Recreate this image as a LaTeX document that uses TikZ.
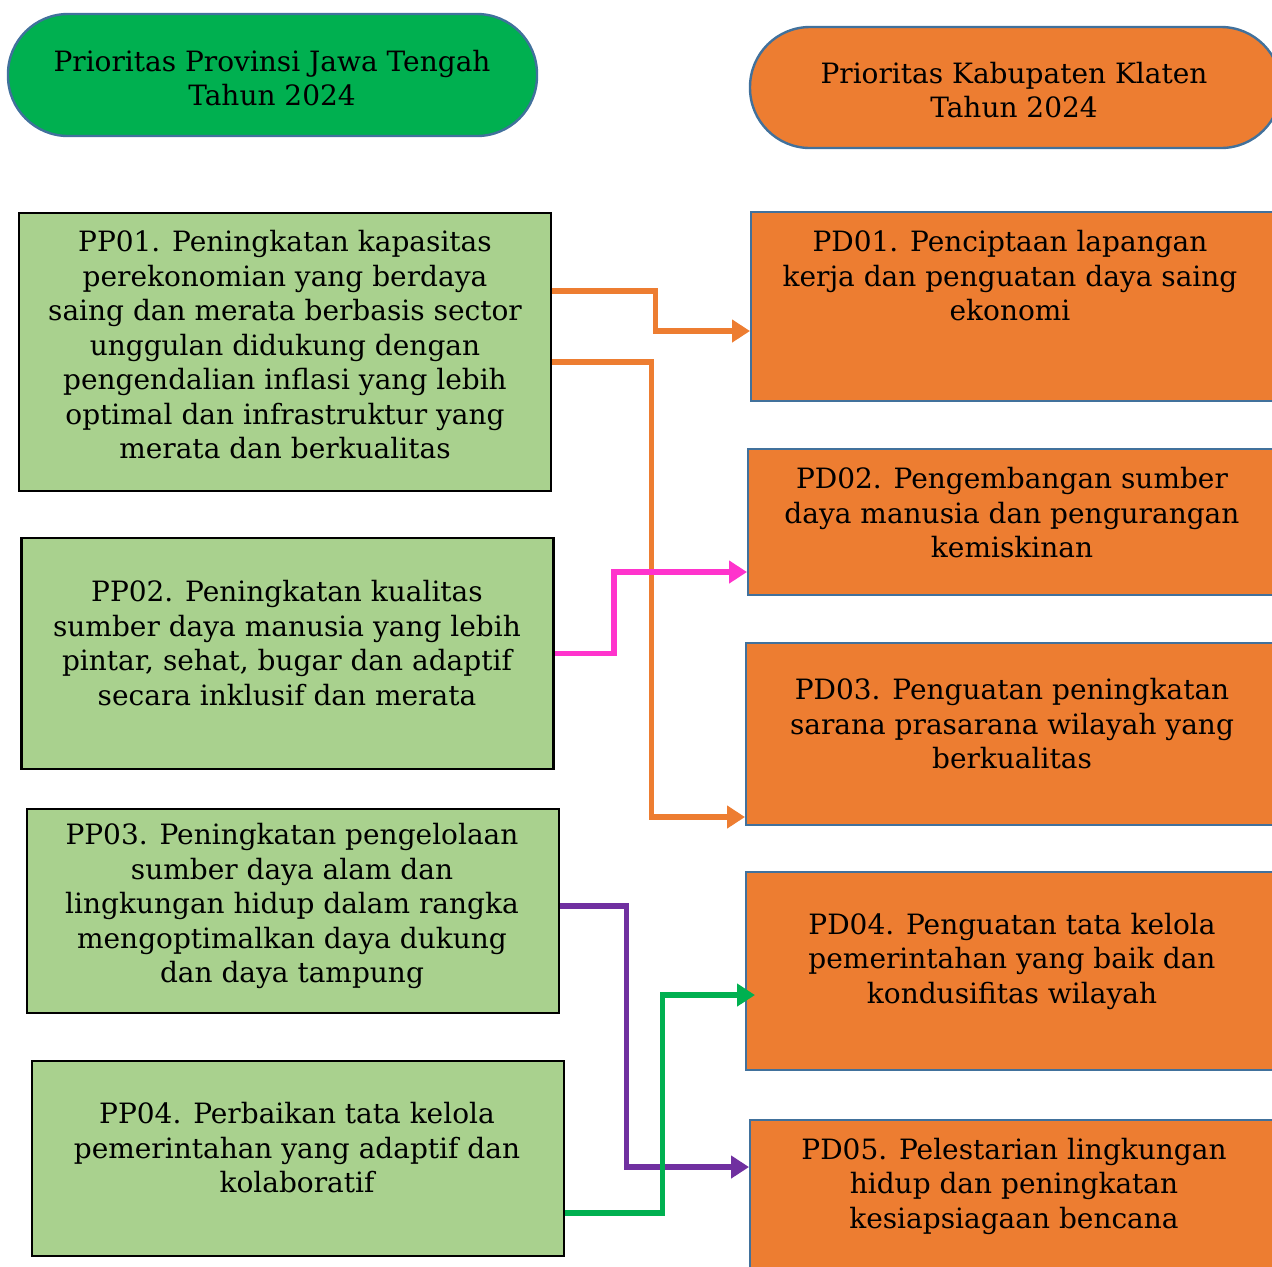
\documentclass[tikz,border=0pt]{standalone}
\usepackage{fontspec}
\setmainfont{DejaVu Serif}
\usetikzlibrary{arrows.meta}
\definecolor{hijau}{HTML}{00B050}
\definecolor{hijaumuda}{HTML}{A9D18E}
\definecolor{oranye}{HTML}{ED7D31}
\definecolor{garis}{HTML}{41719C}
\definecolor{merahmuda}{HTML}{FF33CC}
\definecolor{ungu}{HTML}{7030A0}
\begin{document}
\begin{tikzpicture}[x=0.5pt, y=-0.5pt,
	judul/.style={draw=garis, line width=1.2pt, rounded corners=30pt, inner sep=0pt},
	ppbox/.style={draw=black, line width=1.3pt, fill=hijaumuda, minimum width=266pt, inner sep=0pt},
	pdbox/.style={draw=garis, line width=1pt, fill=oranye, minimum width=266pt, inner sep=0pt},
	teks/.style={align=center, inner sep=0pt, font=\fontsize{14pt}{17.25pt}\selectfont},
	wire/.style={line width=2.8pt, -{Triangle[length=9pt,width=11pt]}}]
			\useasboundingbox (0,0) rectangle (1272,1266);
			\clip (0,0) rectangle (1272,1266);
			% judul
			\node[judul, fill=hijau, minimum width=264.5pt, minimum height=61pt] (prov) at (272.5,75) {};
			\node[teks] at (272,78) {Prioritas Provinsi Jawa Tengah\\Tahun 2024};
			\node[judul, fill=oranye, minimum width=265.5pt, minimum height=60.5pt] (kab) at (1015.5,87.5) {};
			\node[teks] at (1014,90) {Prioritas Kabupaten Klaten\\Tahun 2024};
			% prioritas provinsi
			\node[ppbox, minimum height=139pt] (pp1) at (285,352) {};
			\node[teks] at (285,345) {PP01. Peningkatan kapasitas\\perekonomian yang berdaya\\saing dan merata berbasis sector\\unggulan didukung dengan\\pengendalian inflasi yang lebih\\optimal dan infrastruktur yang\\merata dan berkualitas};
			\node[ppbox, minimum height=115.5pt] (pp2) at (287.5,653.5) {};
			\node[teks] at (287,643) {PP02. Peningkatan kualitas\\sumber daya manusia yang lebih\\pintar, sehat, bugar dan adaptif\\secara inklusif dan merata};
			\node[ppbox, minimum height=102pt] (pp3) at (293,911) {};
			\node[teks] at (292,906) {PP03. Peningkatan pengelolaan\\sumber daya alam dan\\lingkungan hidup dalam rangka\\mengoptimalkan daya dukung\\dan daya tampung};
			\node[ppbox, minimum height=97.5pt] (pp4) at (298,1158.5) {};
			\node[teks] at (297,1148) {PP04. Perbaikan tata kelola\\pemerintahan yang adaptif dan\\kolaboratif};
			% prioritas kabupaten
			\node[pdbox, minimum height=94.5pt] (pd1) at (1017,306.5) {};
			\node[teks] at (1010,276) {PD01. Penciptaan lapangan\\kerja dan penguatan daya saing\\ekonomi};
			\node[pdbox, minimum height=73pt] (pd2) at (1014,522) {};
			\node[teks] at (1012,513) {PD02. Pengembangan sumber\\daya manusia dan pengurangan\\kemiskinan};
			\node[pdbox, minimum height=91pt] (pd3) at (1012,734) {};
			\node[teks] at (1012,724) {PD03. Penguatan peningkatan\\sarana prasarana wilayah yang\\berkualitas};
			\node[pdbox, minimum height=99pt] (pd4) at (1012,971) {};
			\node[teks] at (1012,961) {PD04. Penguatan tata kelola\\pemerintahan yang baik dan\\kondusifitas wilayah};
			\node[pdbox, minimum height=80pt] (pd5) at (1016,1200) {};
			\node[teks] at (1014,1186) {PD05. Pelestarian lingkungan\\hidup dan peningkatan\\kesiapsiagaan bencana};
			% hubungan
			\draw[wire, oranye] ([yshift=30.5pt]pp1.east) -- ++(103,0) |- ([yshift=-12.25pt]pd1.west);
			\draw[wire, oranye] ([yshift=-5pt]pp1.east) -- ++(99,0) |- ([yshift=-41.5pt]pd3.west);
			\draw[wire, merahmuda] (pp2.east) -- ++(59,0) |- ([yshift=-25pt]pd2.west);
			\draw[wire, ungu] ([yshift=2.5pt]pp3.east) -- ++(66,0) |- ([yshift=16.5pt]pd5.west);
			\draw[wire, hijau, shorten >=-5pt] ([yshift=-27.25pt]pp4.east) -- ++(97,0) |- ([yshift=-12pt]pd4.west);
			\end{tikzpicture}
\end{document}
